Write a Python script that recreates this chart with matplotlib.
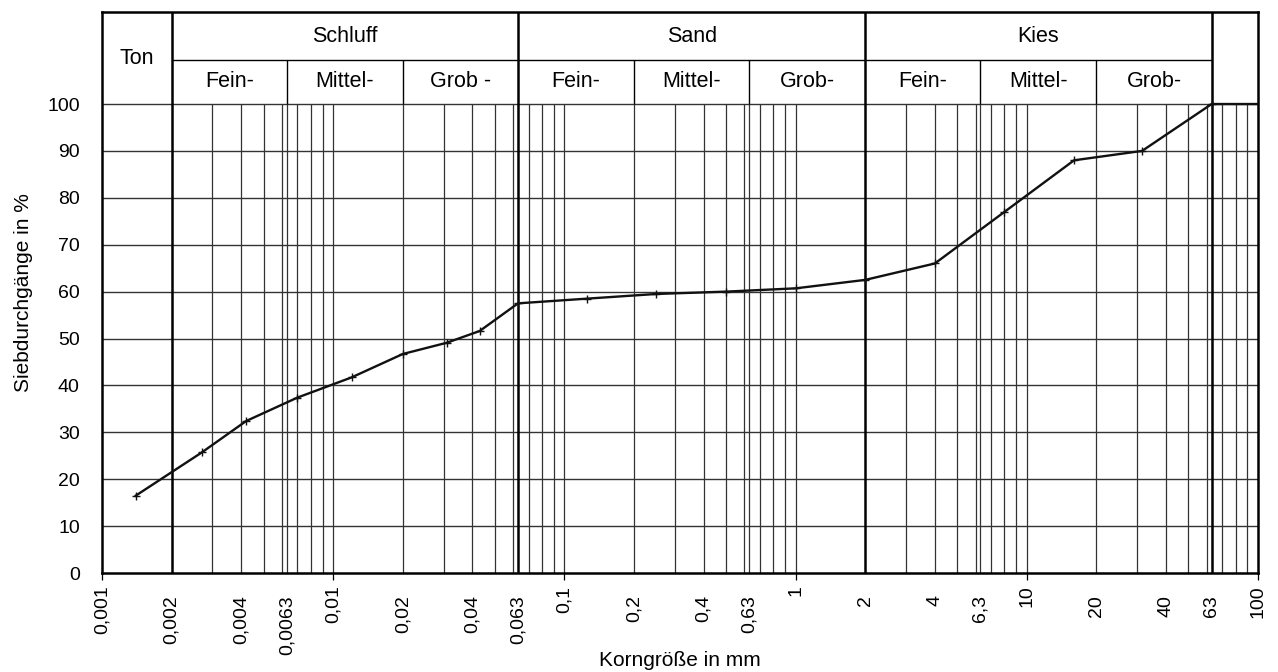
import numpy as np
import matplotlib
matplotlib.use("Agg")
import matplotlib.pyplot as plt

plt.rcParams['font.family'] = ['Liberation Sans', 'DejaVu Sans']

# Sieblinie (Korngröße in mm / Siebdurchgang in %)
korn_mm = [0.0014, 0.0027, 0.0042, 0.007, 0.012, 0.020, 0.031, 0.043,
           0.063, 0.125, 0.25, 0.5, 1, 2, 4, 8, 16, 31.5, 63, 100]
durchgang = [16.5, 25.7, 32.4, 37.4, 41.7, 46.7, 49.1, 51.6,
             57.5, 58.5, 59.5, 60.0, 60.7, 62.5, 66.0, 77.0, 88.0, 90.0, 100, 100]

# Achsbeschriftung
decade_ticks = [0.001, 0.01, 0.1, 1, 10, 100]
decade_labels = ['0,001', '0,01', '0,1', '1', '10', '100']
other_ticks = [0.002, 0.004, 0.0063, 0.02, 0.04, 0.063, 0.2, 0.4, 0.63, 2, 4, 6.3, 20, 40, 63]
other_labels = ['0,002', '0,004', '0,0063', '0,02', '0,04', '0,063', '0,2', '0,4', '0,63',
                '2', '4', '6,3', '20', '40', '63']
y_ticks = list(range(0, 101, 10))

# Bodenarten (Kopfzeile)
main_bounds = [0.002, 0.063, 2, 63]
main_names = ['Schluff', 'Sand', 'Kies']
sub_bounds = [[0.002, 0.0063, 0.02, 0.063],
              [0.063, 0.2, 0.63, 2],
              [2, 6.3, 20, 63]]
sub_names = [['Fein-', 'Mittel-', 'Grob -'],
             ['Fein-', 'Mittel-', 'Grob-'],
             ['Fein-', 'Mittel-', 'Grob-']]

y_top = 119.6
y_mid = 109.4

fig = plt.figure(figsize=(12.78, 6.72), dpi=100)
ax = fig.add_axes([0.0798, 0.1473, 0.9046, 0.8347])
ax.set_xscale('log')
ax.set_xlim(0.001, 100)
ax.set_ylim(0, y_top)

for s in ax.spines.values():
    s.set_linewidth(1.8)
    s.set_color('black')

# Gitter
grid_c = '#333333'
ax.hlines(y_ticks[1:], 0.001, 100, color=grid_c, lw=1.0, zorder=1)
thin_x = []
for dec in [0.001, 0.01, 0.1, 1, 10]:
    for m in [1, 2, 3, 4, 5, 6, 6.3, 7, 8, 9]:
        x = m * dec
        if 0.0021 < x < 99 and not any(abs(x / b - 1) < 1e-6 for b in main_bounds):
            thin_x.append(x)
ax.vlines(thin_x, 0, 100, color=grid_c, lw=0.9, zorder=1)

# Kopfzeile
ax.vlines(main_bounds, 0, y_top, color='black', lw=1.8, zorder=2)
ax.hlines(y_mid, main_bounds[0], main_bounds[-1], color='black', lw=1.0, zorder=2)
for b in sub_bounds:
    ax.vlines(b[1:3], 100, y_mid, color='black', lw=1.0, zorder=2)

hfs = 15.5
ax.text(np.sqrt(0.001 * 0.002), (100 + y_top) / 2, 'Ton', ha='center', va='center', fontsize=hfs)
for i, name in enumerate(main_names):
    xc = np.sqrt(main_bounds[i] * main_bounds[i + 1])
    ax.text(xc, (y_mid + y_top) / 2, name, ha='center', va='center', fontsize=hfs)
    for j, sub in enumerate(sub_names[i]):
        xs = np.sqrt(sub_bounds[i][j] * sub_bounds[i][j + 1])
        ax.text(xs, (100 + y_mid) / 2, sub, ha='center', va='center', fontsize=hfs)

# Kurve
ax.plot(korn_mm, durchgang, color='#111111', lw=1.7, marker='+', ms=6, mew=1.0,
        markevery=list(range(len(korn_mm) - 1)), zorder=4)

# Achsen
fs = 14
ax.set_xticks(decade_ticks, decade_labels, rotation=90, fontsize=fs)
ax.set_xticks(other_ticks, other_labels, minor=True, rotation=90, fontsize=fs)
ax.tick_params(axis='x', which='major', length=5, width=0.9, pad=4, direction='out')
ax.tick_params(axis='x', which='minor', length=0, pad=16)
ax.set_yticks(y_ticks, [str(v) for v in y_ticks], fontsize=fs)
ax.tick_params(axis='y', length=0, pad=16)

ax.set_ylabel('Siebdurchgänge in %', fontsize=15, labelpad=10)
fig.text(0.532, 1 - 661 / 672, 'Korngröße in mm', fontsize=15, ha='center', va='center')

fig.savefig('out.png', dpi=100, facecolor='white')
